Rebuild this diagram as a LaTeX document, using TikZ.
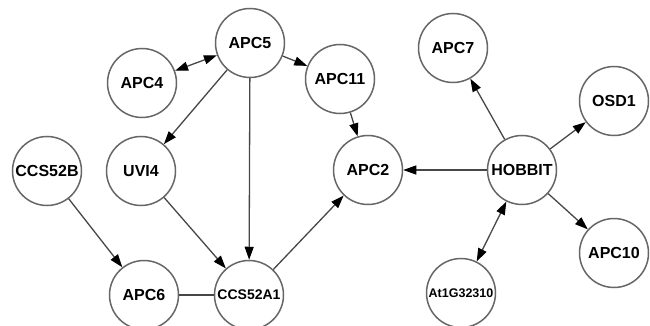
\documentclass[tikz,border=0pt]{standalone}
\usepackage{fontspec}
\setmainfont{Liberation Sans}
\usetikzlibrary{positioning,arrows.meta}
\definecolor{ringgray}{HTML}{666666}
\definecolor{edgegray}{HTML}{474747}
\tikzset{
	prot/.style={circle, draw=ringgray, line width=1.5pt, minimum size=69pt, inner sep=0pt, font=\bfseries\fontsize{16}{17}\selectfont},
	link/.style={draw=edgegray, line width=1.3pt, -{Triangle[length=13pt,width=9pt,black]}},
	bilink/.style={draw=edgegray, line width=1.3pt, {Triangle[length=13pt,width=9pt,black]}-{Triangle[length=13pt,width=9pt,black]}},
	plain/.style={draw=edgegray, line width=1.3pt},
}
\begin{document}
\begin{tikzpicture}[x=1pt, y=-1pt, on grid]
    \useasboundingbox (0,0) rectangle (650,326);

    \node[prot] (apc5) at (250,43) {APC5};
    \node[prot, below left=40pt and 108pt of apc5] (apc4) {APC4};
    \node[prot, below right=36pt and 90pt of apc5] (apc11) {APC11};
    \node[prot, below left=128pt and 109pt of apc5] (uvi4) {UVI4};
    \node[prot, left=94pt of uvi4] (ccs52b) {CCS52B};
    \node[prot, below right=124pt and 3pt of uvi4] (apc6) {APC6};
    \node[prot, right=105pt of apc6, font=\bfseries\fontsize{14}{15}\selectfont] (ccs52a1) {CCS52A1};

    \node[prot] (apc2) at (368,170) {APC2};
    \node[prot, right=154pt of apc2] (hobbit) {HOBBIT};
    \node[prot, above left=122pt and 69pt of hobbit] (apc7) {APC7};
    \node[prot, above right=69pt and 92pt of hobbit] (osd1) {OSD1};
    \node[prot, below right=83pt and 92pt of hobbit] (apc10) {APC10};
    \node[prot, below left=123pt and 61pt of hobbit, font=\bfseries\fontsize{12.5}{13}\selectfont] (at1g) {At1G32310};

    \draw[bilink] (apc4) -- (apc5);
    \draw[link] (apc5) -- (apc11);
    \draw[link] (apc5) -- (uvi4);
    \draw[link] (apc5) -- (ccs52a1);
    \draw[link] (apc11) -- (apc2);
    \draw[link] (uvi4) -- (ccs52a1);
    \draw[link] (ccs52b) -- (apc6);
    \draw[plain] (apc6) -- (ccs52a1);
    \draw[link] (ccs52a1) -- (apc2);

    \draw[link] (hobbit) -- (apc2);
    \draw[link] (hobbit) -- (apc7);
    \draw[link] (hobbit) -- (osd1);
    \draw[link] (hobbit) -- (apc10);
    \draw[bilink] (hobbit) -- (at1g);
\end{tikzpicture}
\end{document}
